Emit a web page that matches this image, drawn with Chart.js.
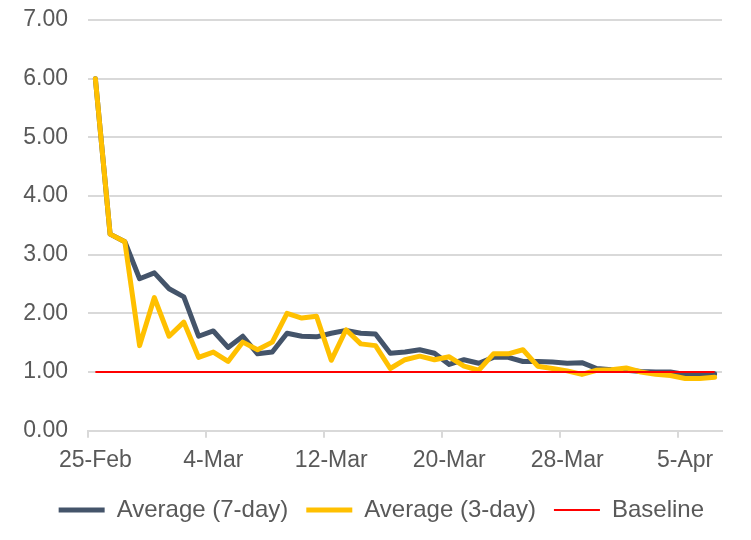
<!DOCTYPE html>
<html>
<head>
<meta charset="utf-8">
<script src="https://cdn.jsdelivr.net/npm/chart.js@4.4.1/dist/chart.umd.min.js"></script>
<style>
  html, body { margin: 0; padding: 0; background: #fff; }
  #wrap { width: 751px; height: 540px; position: relative; }
</style>
</head>
<body>
<div id="wrap"><canvas id="ratioChart"></canvas></div>
<script>
const dates = [
    '25-Feb', '26-Feb', '27-Feb', '28-Feb', '29-Feb',
    '1-Mar', '2-Mar', '3-Mar', '4-Mar', '5-Mar', '6-Mar', '7-Mar', '8-Mar', '9-Mar', '10-Mar',
    '11-Mar', '12-Mar', '13-Mar', '14-Mar', '15-Mar', '16-Mar', '17-Mar', '18-Mar', '19-Mar', '20-Mar',
    '21-Mar', '22-Mar', '23-Mar', '24-Mar', '25-Mar', '26-Mar', '27-Mar', '28-Mar', '29-Mar', '30-Mar',
    '31-Mar', '1-Apr', '2-Apr', '3-Apr', '4-Apr', '5-Apr', '6-Apr', '7-Apr'
];
const xTickLabels = ['25-Feb', '4-Mar', '12-Mar', '20-Mar', '28-Mar', '5-Apr'];

const avg7 = [
    6.00, 3.35, 3.22, 2.59, 2.69, 2.42, 2.28, 1.61, 1.70, 1.42,
    1.61, 1.31, 1.34, 1.66, 1.61, 1.60, 1.66, 1.71, 1.66, 1.65,
    1.32, 1.34, 1.38, 1.32, 1.13, 1.21, 1.15, 1.25, 1.25, 1.18,
    1.18, 1.17, 1.15, 1.16, 1.06, 1.04, 1.03, 1.01, 1.00, 1.00,
    0.96, 0.96, 0.97
];
const avg3 = [
    6.00, 3.35, 3.22, 1.45, 2.27, 1.61, 1.85, 1.25, 1.34, 1.18,
    1.51, 1.38, 1.51, 2.00, 1.92, 1.95, 1.20, 1.72, 1.48, 1.45,
    1.06, 1.21, 1.27, 1.21, 1.26, 1.10, 1.03, 1.31, 1.31, 1.38,
    1.10, 1.06, 1.02, 0.96, 1.03, 1.04, 1.07, 1.00, 0.96, 0.94,
    0.89, 0.89, 0.91
];
const baseline = [
    1, 1, 1, 1, 1, 1, 1, 1, 1, 1,
    1, 1, 1, 1, 1, 1, 1, 1, 1, 1,
    1, 1, 1, 1, 1, 1, 1, 1, 1, 1,
    1, 1, 1, 1, 1, 1, 1, 1, 1, 1,
    1, 1, 1
];
const yTicks = [0, 1, 2, 3, 4, 5, 6, 7];

const textColor = '#595959';
const gridColor = '#D9D9D9';
const fontFamily = "'Liberation Sans', Arial, sans-serif";

/**
 * Line chart: 7-day / 3-day averages against the baseline
 */
function initRatioChart() {
    const canvas = document.getElementById('ratioChart');
    if (!canvas) return;

    new Chart(canvas, {
        type: 'line',
        data: {
            labels: dates,
            datasets: [{
                label: 'Average (7-day)',
                data: avg7,
                borderColor: '#44546A',
                backgroundColor: '#44546A',
                borderWidth: 5,
                borderCapStyle: 'round',
                borderJoinStyle: 'round',
                pointRadius: 0,
                pointStyle: 'line',
                tension: 0,
                order: 3,
            }, {
                label: 'Average (3-day)',
                data: avg3,
                borderColor: '#FFC000',
                backgroundColor: '#FFC000',
                borderWidth: 5,
                borderCapStyle: 'round',
                borderJoinStyle: 'round',
                pointRadius: 0,
                pointStyle: 'line',
                tension: 0,
                order: 2,
            }, {
                label: 'Baseline',
                data: baseline,
                borderColor: '#FF0000',
                backgroundColor: '#FF0000',
                borderWidth: 2,
                pointRadius: 0,
                pointStyle: 'line',
                tension: 0,
                order: 1,
            }],
        },
        options: {
            responsive: true,
            maintainAspectRatio: false,
            animation: false,
            layout: { padding: { left: 0, right: 29, top: 20, bottom: 8 } },
            plugins: {
                tooltip: { enabled: false },
                legend: {
                    position: 'bottom',
                    align: 'end',
                    labels: {
                        usePointStyle: true,
                        pointStyleWidth: 46,
                        padding: 18,
                        color: textColor,
                        font: { family: fontFamily, size: 24 },
                        sort: (a, b) => a.datasetIndex - b.datasetIndex,
                    },
                },
            },
            scales: {
                x: {
                    type: 'category',
                    offset: true,
                    afterFit: (scale) => { scale.height = 49.3; },
                    border: { display: true, color: gridColor, width: 2 },
                    grid: {
                        offset: true,
                        drawOnChartArea: false,
                        drawTicks: true,
                        tickLength: 7,
                        lineWidth: 2,
                        color: (ctx) => (ctx.tick && xTickLabels.includes(dates[ctx.index])) ? gridColor : 'rgba(0,0,0,0)',
                    },
                    ticks: {
                        autoSkip: false,
                        maxRotation: 0,
                        padding: 9,
                        color: textColor,
                        font: { family: fontFamily, size: 23 },
                        callback: function (value) {
                            const label = this.getLabelForValue(value);
                            return xTickLabels.includes(label) ? label : '';
                        },
                    },
                },
                y: {
                    min: yTicks[0],
                    max: yTicks[yTicks.length - 1],
                    afterFit: (scale) => { scale.width = 88; },
                    afterBuildTicks: (scale) => { scale.ticks = yTicks.map((v) => ({ value: v })); },
                    border: { display: false },
                    grid: {
                        color: gridColor,
                        lineWidth: 2,
                        drawTicks: true,
                        tickLength: 20,
                        tickColor: 'rgba(0,0,0,0)',
                    },
                    ticks: {
                        padding: 0,
                        color: textColor,
                        font: { family: fontFamily, size: 23 },
                        callback: (v) => v.toFixed(2),
                    },
                },
            },
        },
    });
}

document.addEventListener('DOMContentLoaded', () => {
    initRatioChart();
});
</script>
</body>
</html>
